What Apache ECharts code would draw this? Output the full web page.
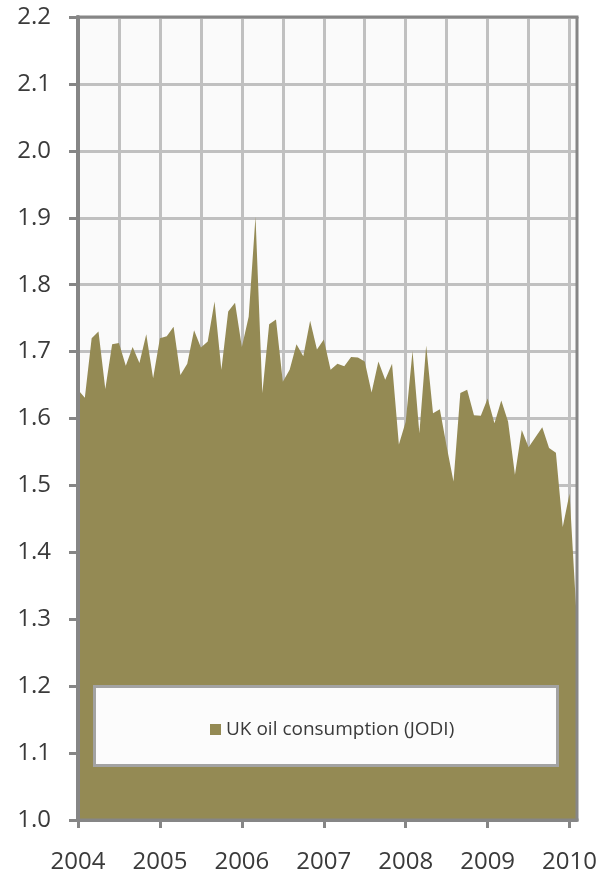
<!DOCTYPE html>
<html>
<head>
<meta charset="utf-8">
<script src="https://cdn.jsdelivr.net/npm/echarts@6/dist/echarts.min.js"></script>
<style>
html,body{margin:0;padding:0;background:#ffffff;}
#chart{width:600px;height:880px;}
</style>
</head>
<body>
<div id="chart"></div>
<script>
// ---- data ----
var startYear = 2004;
var monthCount = 74; // Jan 2004 .. Feb 2010
var yearLabels = ['2004', '2005', '2006', '2007', '2008', '2009', '2010'];
var yTickLabels = ['1.0','1.1','1.2','1.3','1.4','1.5','1.6','1.7','1.8','1.9','2.0','2.1','2.2'];
var seriesName = 'UK oil consumption (JODI)';
var consumption = [
  // 2004
  1.643, 1.631, 1.720, 1.730, 1.644, 1.711, 1.713, 1.679, 1.707, 1.683, 1.726, 1.660,
  // 2005
  1.720, 1.723, 1.737, 1.665, 1.682, 1.732, 1.706, 1.715, 1.775, 1.673, 1.760, 1.773,
  // 2006
  1.707, 1.752, 1.902, 1.638, 1.741, 1.748, 1.655, 1.673, 1.711, 1.693, 1.746, 1.703,
  // 2007
  1.718, 1.673, 1.682, 1.678, 1.692, 1.691, 1.685, 1.639, 1.685, 1.658, 1.682, 1.561,
  // 2008
  1.595, 1.701, 1.578, 1.709, 1.608, 1.614, 1.558, 1.506, 1.638, 1.643, 1.605, 1.604,
  // 2009
  1.630, 1.593, 1.627, 1.595, 1.516, 1.583, 1.557, 1.572, 1.587, 1.556, 1.549, 1.438,
  // 2010
  1.488, 1.310
];
var months = [];
for (var i = 0; i < monthCount; i++) {
  var y = startYear + Math.floor(i / 12);
  var m = (i % 12) + 1;
  months.push(y + '-' + (m < 10 ? '0' + m : m));
}

// ---- layout / style ----
var GL = 78, GR = 577, GT = 17, GB = 820;
var axisGray = '#868686';
var gridGray = '#c0c0c0';
var fillColor = '#948a54';
var textColor = '#3a3a3a';
var FONT = '"Open Sans", "DejaVu Sans", sans-serif';

var chart = echarts.init(document.getElementById('chart'), null, {renderer: 'canvas'});
chart.setOption({
  backgroundColor: '#ffffff',
  animation: false,
  grid: {
    left: GL, right: 600 - GR, top: GT, bottom: 880 - GB,
    show: true, backgroundColor: '#fafafa', borderWidth: 0
  },
  xAxis: {
    type: 'category',
    data: months,
    boundaryGap: false,
    axisLine: {show: true, lineStyle: {color: axisGray, width: 3}},
    axisTick: {
      show: true, length: 8,
      interval: function (idx) { return idx % 12 === 0; },
      lineStyle: {color: axisGray, width: 3}
    },
    axisLabel: {
      interval: function (idx) { return idx % 12 === 0; },
      formatter: function (v) { return yearLabels[yearLabels.indexOf(v.slice(0, 4))]; },
      margin: 30, color: textColor, fontSize: 24, fontFamily: FONT
    },
    splitLine: {
      show: true,
      interval: function (idx) { return idx % 6 === 0; },
      lineStyle: {color: gridGray, width: 3}
    }
  },
  yAxis: {
    type: 'value',
    min: 1.0, max: 2.2, interval: 0.1,
    axisLine: {show: true, lineStyle: {color: axisGray, width: 4}},
    axisTick: {show: true, length: 9, lineStyle: {color: axisGray, width: 3}},
    axisLabel: {
      formatter: function (v) { return yTickLabels[Math.round((v - 1.0) * 10)]; },
      margin: 27, color: textColor, fontSize: 24, fontFamily: FONT
    },
    splitLine: {show: true, lineStyle: {color: gridGray, width: 3}}
  },
  legend: {
    show: true,
    left: 205, top: 715,
    z: 200,
    itemWidth: 11, itemHeight: 11,
    icon: 'rect',
    textStyle: {color: textColor, fontSize: 19, fontFamily: FONT},
    data: [seriesName]
  },
  graphic: [
    {type: 'rect', z: 150, shape: {x: 94.5, y: 686.5, width: 463, height: 79},
     style: {fill: '#fcfcfc', stroke: '#a3a3a3', lineWidth: 3}},
    {type: 'line', z: 100, shape: {x1: GL - 2, y1: GT, x2: GR + 1.5, y2: GT}, style: {stroke: axisGray, lineWidth: 3}},
    {type: 'line', z: 100, shape: {x1: GR, y1: GT, x2: GR, y2: GB + 1.5}, style: {stroke: axisGray, lineWidth: 3}},
    {type: 'line', z: 100, shape: {x1: GL, y1: GT, x2: GL, y2: GB + 1.5}, style: {stroke: axisGray, lineWidth: 4}},
    {type: 'line', z: 100, shape: {x1: GL - 2, y1: GB, x2: GR + 1.5, y2: GB}, style: {stroke: axisGray, lineWidth: 3}}
  ],
  series: [{
    name: seriesName,
    type: 'line',
    data: consumption,
    showSymbol: false,
    symbol: 'none',
    lineStyle: {width: 0, color: fillColor},
    itemStyle: {color: fillColor},
    areaStyle: {color: fillColor, opacity: 1, origin: 'start'}
  }]
});
</script>
</body>
</html>
